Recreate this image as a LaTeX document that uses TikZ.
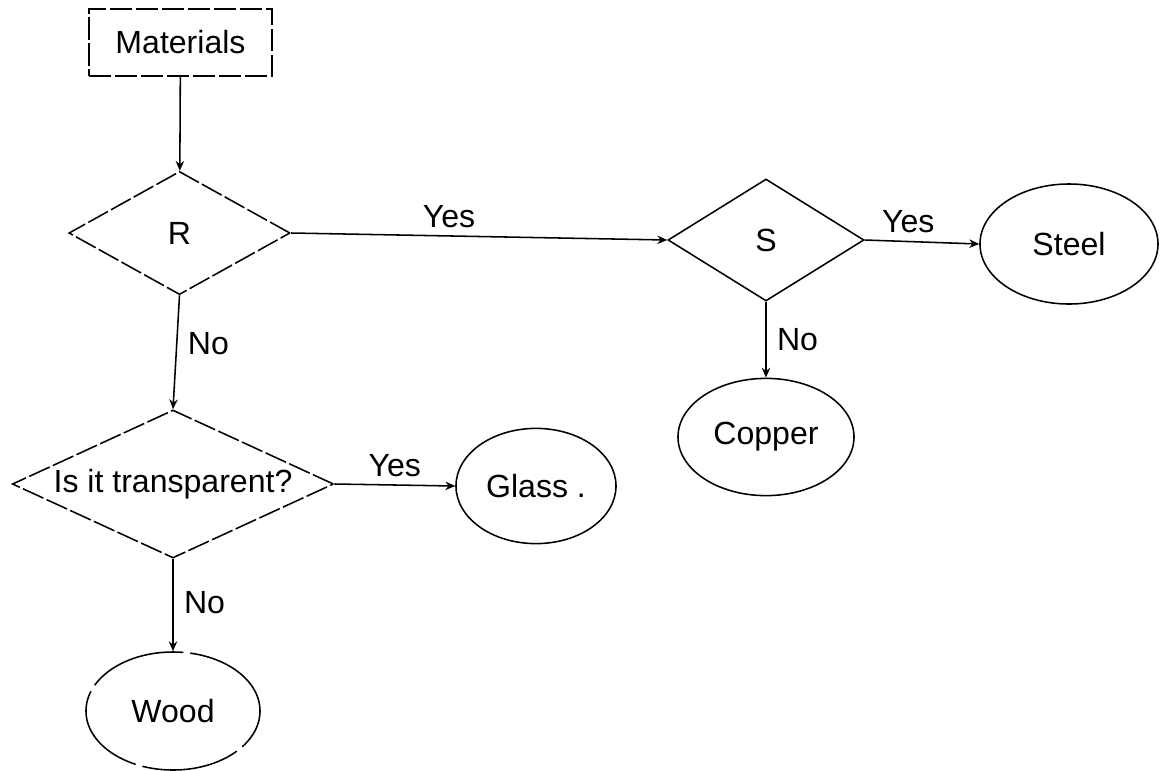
\documentclass[tikz,border=0pt]{standalone}
\usepackage{fontspec}
\setmainfont{Liberation Sans}
\usetikzlibrary{arrows,arrows.meta,shapes,positioning}
\tikzstyle{rough}    = [dash pattern=on 16pt off 2.5pt]
\tikzstyle{box}      = [rectangle, draw, rough, minimum width=4.58cm, minimum height=1.68cm, inner sep=0pt]
\tikzstyle{decision} = [diamond, draw, inner sep=0pt]
\tikzstyle{result}   = [ellipse, draw, inner sep=0pt]
\tikzstyle{arrow}    = [->,>={Stealth[length=7pt,width=6pt]}]

\begin{document}
\begin{tikzpicture}[x=0.025cm, y=-0.025cm, line width=1.1pt, font=\fontsize{22.8}{26}\selectfont]
        \useasboundingbox (0,0) rectangle (1160,771);

        \node[box] (mat) at (180.5,42.5) {Materials};
        \node[decision, rough, aspect=1.8, minimum width=5.53cm, minimum height=3.08cm] (r) at (179.5,233) {R};
        \node[decision, aspect=1.6, minimum width=4.9cm, minimum height=3.05cm] (s) at (766,240) {S};
        \node[decision, rough, aspect=2.17, minimum width=8.03cm, minimum height=3.7cm] (clear) at (173,484) {Is it transparent?};

        \node[result, minimum width=4.45cm, minimum height=3cm] (steel) at (1069,244) {Steel};
        \node[result, minimum width=4.4cm, minimum height=2.93cm] (copper) at (766,437) {Copper};
        \node[result, minimum width=4cm, minimum height=2.88cm] (glass) at (536,486) {Glass .};
        \node[result, dash pattern=on 70pt off 5pt, minimum width=4.35cm, minimum height=2.95cm] (wood) at (173,711) {Wood};

        \draw[arrow] (mat) -- (r);
        \draw[arrow] (r.east) -- node[pos=0.42, above=2pt] {Yes} (s.west);
        \draw[arrow] (r.south) -- node[pos=0.42, right=4pt] {No} (clear.north);
        \draw[arrow] (s.east) -- node[pos=0.38, above=2pt] {Yes} (steel.west);
        \draw[arrow] (s.south) -- node[pos=0.5, right=4pt] {No} (copper.north);
        \draw[arrow] (clear.east) -- node[pos=0.5, above=2pt] {Yes} (glass.west);
        \draw[arrow] (clear.south) -- node[pos=0.47, right=4pt] {No} (wood.north);
    \end{tikzpicture}
\end{document}
